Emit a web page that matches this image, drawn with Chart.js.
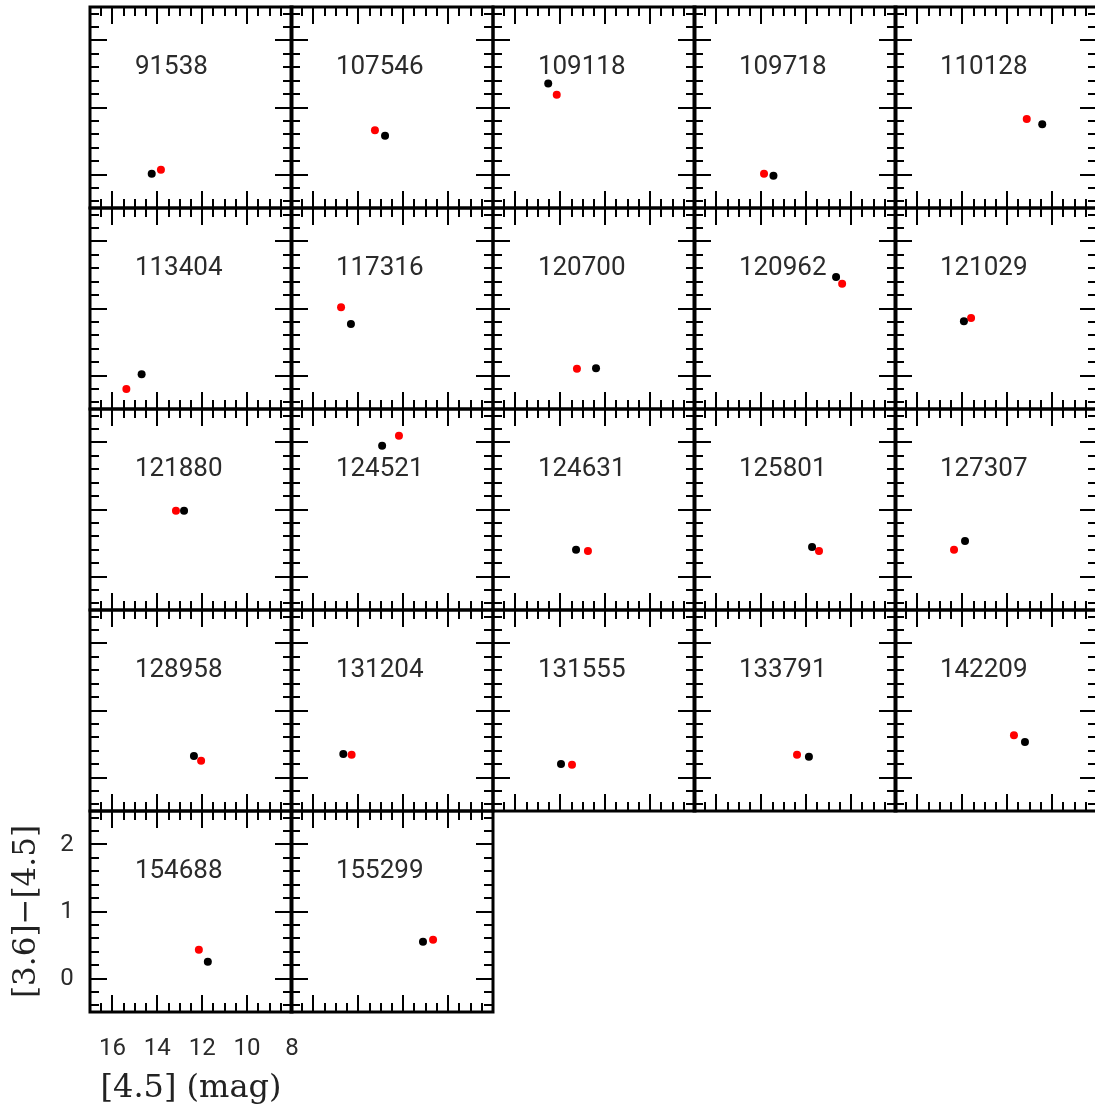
<!DOCTYPE html>
<html lang="en">
  <head>
    <meta charset="UTF-8" />
    <title>[4.5] vs [3.6]-[4.5]</title>
    <script src="https://cdn.jsdelivr.net/npm/chart.js"></script>
    <style>
      body { margin: 0; background: #fff; }
      #grid { position: relative; width: 1095px; height: 1113px; overflow: hidden; }
      #grid canvas { position: absolute; }
    </style>
  </head>
  <body>
    <div id="grid"></div>

    <script>
      // star names, one panel each
      const STAR_IDS = ["91538", "107546", "109118", "109718", "110128",
                        "113404", "117316", "120700", "120962", "121029",
                        "121880", "124521", "124631", "125801", "127307",
                        "128958", "131204", "131555", "133791", "142209",
                        "154688", "155299"];

      // black points: [4.5] mag and [3.6]-[4.5] colour
      const BLACK_MAG   = [14.25, 12.81, 14.54, 13.46, 10.44, 14.70, 14.33, 12.41, 10.67, 13.93, 12.81,
                           12.94, 13.30, 11.74, 13.88, 12.37, 14.67, 13.97, 11.88, 11.21, 11.75, 11.12];
      const BLACK_COLOR = [0.01, 0.58, 1.36, -0.02, 0.75, 0.02, 0.77, 0.11, 1.47, 0.81, 0.98,
                           1.95, 0.40, 0.44, 0.53, 0.32, 0.35, 0.20, 0.31, 0.53, 0.25, 0.55];

      // red points
      const RED_MAG   = [13.84, 13.26, 14.16, 13.88, 11.13, 15.38, 14.77, 13.26, 10.40, 13.61, 13.17,
                         12.19, 12.77, 11.43, 14.37, 12.05, 14.30, 13.48, 12.41, 11.70, 12.15, 10.67];
      const RED_COLOR = [0.07, 0.66, 1.19, 0.01, 0.83, -0.20, 1.02, 0.10, 1.37, 0.86, 0.98,
                         2.10, 0.38, 0.38, 0.40, 0.25, 0.34, 0.19, 0.34, 0.63, 0.43, 0.58];

      // axis ticks
      const X_MAJOR = [16, 14, 12, 10, 8];
      const X_MINOR = [16.5, 15.5, 15, 14.5, 13.5, 13, 12.5, 11.5, 11, 10.5, 9.5, 9, 8.5];
      const Y_MAJOR = [0, 1, 2];
      const Y_MINOR = [-0.4, -0.2, 0.2, 0.4, 0.6, 0.8, 1.2, 1.4, 1.6, 1.8, 2.2, 2.4];

      const PANEL_W = 202;
      const PANEL_H = 201;
      const PAD = 10;
      const COLS = 5;

      // frame, inward ticks on all four sides, star label, and axis labels on one panel
      const framePlugin = {
        id: "frame",
        beforeDatasetsDraw(chart, args, opts) {
          const { ctx, chartArea: a } = chart;
          const sx = chart.scales.x;
          const sy = chart.scales.y;
          ctx.save();
          ctx.strokeStyle = "#000";
          ctx.lineWidth = 3;
          ctx.strokeRect(a.left, a.top, a.right - a.left, a.bottom - a.top);

          ctx.lineWidth = 2;
          ctx.beginPath();
          const xTick = (v, len) => {
            const px = Math.round(sx.getPixelForValue(v));
            ctx.moveTo(px, a.top); ctx.lineTo(px, a.top + len);
            ctx.moveTo(px, a.bottom); ctx.lineTo(px, a.bottom - len);
          };
          const yTick = (v, len) => {
            const py = Math.round(sy.getPixelForValue(v));
            ctx.moveTo(a.left, py); ctx.lineTo(a.left + len, py);
            ctx.moveTo(a.right, py); ctx.lineTo(a.right - len, py);
          };
          X_MAJOR.forEach(v => xTick(v, 17));
          X_MINOR.forEach(v => xTick(v, 9));
          Y_MAJOR.forEach(v => yTick(v, 17));
          Y_MINOR.forEach(v => yTick(v, 9));
          ctx.stroke();

          ctx.fillStyle = "#2b2b2b";
          ctx.font = "26px Roboto";
          ctx.textAlign = "left";
          ctx.textBaseline = "alphabetic";
          ctx.fillText(opts.label, sx.getPixelForValue(15), sy.getPixelForValue(1.5));

          if (opts.axes) {
            ctx.font = "24px Roboto";
            ctx.textAlign = "center";
            ctx.textBaseline = "middle";
            X_MAJOR.forEach(v => ctx.fillText(String(v), sx.getPixelForValue(v), a.bottom + 37));
            Y_MAJOR.forEach(v => ctx.fillText(String(v), a.left - 23, sy.getPixelForValue(v)));

            ctx.fillStyle = "#222";
            ctx.font = "32px 'DejaVu Serif'";
            ctx.fillText("[4.5] (mag)", (a.left + a.right) / 2, a.bottom + 77);
            ctx.font = "31px 'DejaVu Serif'";
            ctx.save();
            ctx.translate(a.left - 63, (a.top + a.bottom) / 2);
            ctx.rotate(-Math.PI / 2);
            ctx.fillText("[3.6]\u2212[4.5]", 0, 0);
            ctx.restore();
          }
          ctx.restore();
        }
      };

      const grid = document.getElementById("grid");

      STAR_IDS.forEach((id, i) => {
        const col = i % COLS;
        const row = Math.floor(i / COLS);
        const left = Math.round(90 + col * 201.25);
        const top = 7 + row * PANEL_H;
        const withAxes = (col === 0 && row === 4);

        const pad = withAxes
          ? { left: left, top: PAD, right: PAD, bottom: 1113 - (top + PANEL_H) }
          : { left: PAD, top: PAD, right: PAD, bottom: PAD };

        const canvas = document.createElement("canvas");
        canvas.width = pad.left + PANEL_W + pad.right;
        canvas.height = pad.top + PANEL_H + pad.bottom;
        canvas.style.left = (left - pad.left) + "px";
        canvas.style.top = (top - pad.top) + "px";
        grid.appendChild(canvas);

        new Chart(canvas, {
          type: "scatter",
          data: {
            datasets: [
              {
                data: [{ x: BLACK_MAG[i], y: BLACK_COLOR[i] }],
                pointRadius: 4,
                pointBackgroundColor: "#000",
                pointBorderWidth: 0,
              },
              {
                data: [{ x: RED_MAG[i], y: RED_COLOR[i] }],
                pointRadius: 4,
                pointBackgroundColor: "#ff0000",
                pointBorderWidth: 0,
              },
            ],
          },
          options: {
            responsive: false,
            animation: false,
            devicePixelRatio: 1,
            layout: { padding: pad },
            scales: {
              x: { type: "linear", min: 8, max: 17, reverse: true, display: false },
              y: { type: "linear", min: -0.5, max: 2.5, display: false },
            },
            plugins: {
              legend: { display: false },
              tooltip: { enabled: false },
              frame: { label: id, axes: withAxes },
            },
          },
          plugins: [framePlugin],
        });
      });
    </script>
  </body>
</html>
